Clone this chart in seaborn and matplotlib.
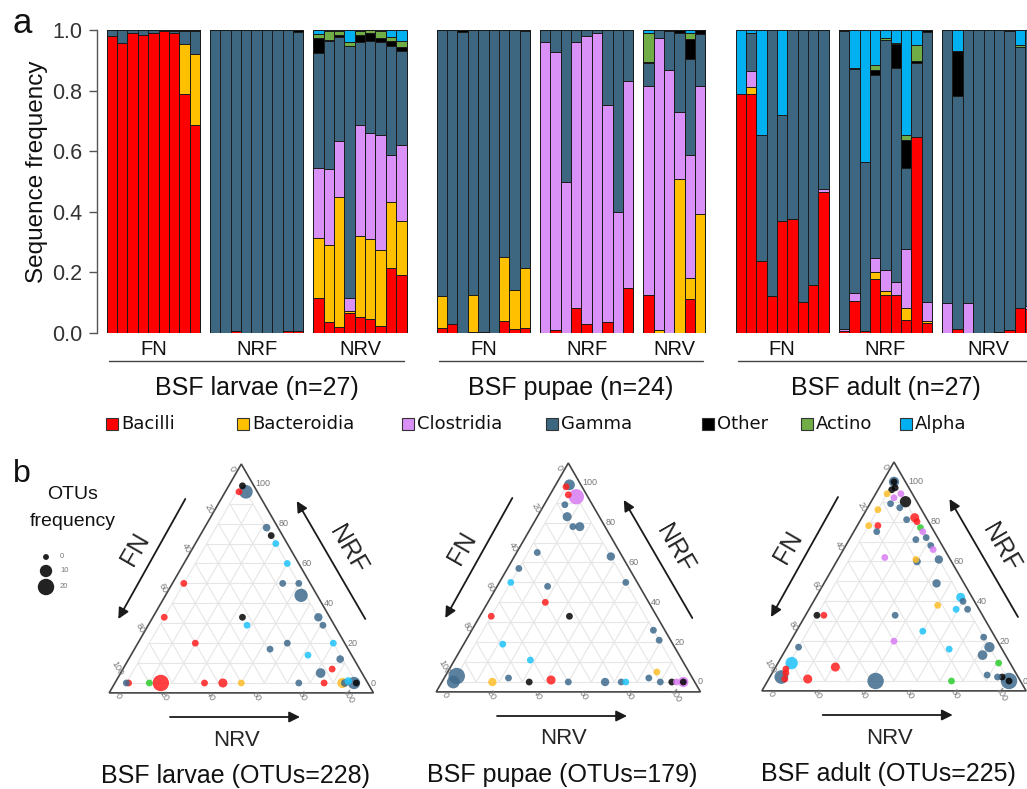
import numpy as np
import pandas as pd
import matplotlib.pyplot as plt
import seaborn as sns
from matplotlib.patches import Polygon, Rectangle

# ---------------- data ----------------
classes = ['Bacilli', 'Bacteroidia', 'Clostridia', 'Gamma', 'Other', 'Actino', 'Alpha']
bar_colors = ['#ff0000', '#ffc000', '#d990f7', '#3d6681', '#000000', '#70ad47', '#00b0f0']
dot_colors = ['#ff1f1f', '#fdbd2a', '#d97cf2', '#3f6b8d', '#050505', '#2fcc2f', '#1ec3fb']

group_names = ['FN', 'NRF', 'NRV']
stage_titles = ['BSF larvae (n=27)', 'BSF pupae (n=24)', 'BSF adult (n=27)']
tern_titles = ['BSF larvae (OTUs=228)', 'BSF pupae (OTUs=179)', 'BSF adult (OTUs=225)']

# each row: Bacilli, Bacteroidia, Clostridia, Gamma, Other, Actino, Alpha
larvae_FN = [
    [0.981, 0, 0, 0.019, 0, 0, 0],
    [0.957, 0, 0, 0.043, 0, 0, 0],
    [0.990, 0, 0, 0.010, 0, 0, 0],
    [0.982, 0, 0, 0.018, 0, 0, 0],
    [0.990, 0, 0, 0.010, 0, 0, 0],
    [0.996, 0, 0, 0.004, 0, 0, 0],
    [0.990, 0, 0, 0.006, 0.004, 0, 0],
    [0.789, 0.164, 0, 0.044, 0.003, 0, 0],
    [0.686, 0.234, 0, 0.077, 0.003, 0, 0],
]
larvae_NRF = [
    [0, 0, 0, 1.0, 0, 0, 0],
    [0, 0, 0, 1.0, 0, 0, 0],
    [0.005, 0, 0, 0.995, 0, 0, 0],
    [0, 0, 0, 1.0, 0, 0, 0],
    [0, 0, 0, 1.0, 0, 0, 0],
    [0, 0, 0, 1.0, 0, 0, 0],
    [0, 0, 0, 1.0, 0, 0, 0],
    [0.006, 0, 0, 0.994, 0, 0, 0],
    [0.006, 0, 0, 0.988, 0.006, 0, 0],
]
larvae_NRV = [
    [0.115, 0.199, 0.231, 0.379, 0.050, 0.013, 0.013],
    [0.036, 0.255, 0.249, 0.424, 0.003, 0.029, 0.004],
    [0.020, 0.428, 0.185, 0.345, 0.005, 0.013, 0.004],
    [0.066, 0.007, 0.042, 0.833, 0.000, 0.012, 0.040],
    [0.053, 0.266, 0.366, 0.274, 0.026, 0.013, 0.002],
    [0.047, 0.263, 0.350, 0.305, 0.024, 0.011, 0.000],
    [0.022, 0.253, 0.379, 0.308, 0.012, 0.022, 0.004],
    [0.214, 0.219, 0.156, 0.359, 0.017, 0.011, 0.024],
    [0.193, 0.176, 0.252, 0.309, 0.015, 0.020, 0.035],
]
pupae_FN = [
    [0.018, 0.104, 0, 0.878, 0, 0, 0],
    [0.029, 0, 0, 0.971, 0, 0, 0],
    [0, 0, 0, 0.995, 0.005, 0, 0],
    [0.003, 0.122, 0, 0.875, 0, 0, 0],
    [0.004, 0, 0, 0.996, 0, 0, 0],
    [0, 0, 0, 1.0, 0, 0, 0],
    [0.040, 0.210, 0, 0.750, 0, 0, 0],
    [0.012, 0.131, 0, 0.857, 0, 0, 0],
    [0.018, 0.196, 0, 0.783, 0.003, 0, 0],
]
pupae_NRF = [
    [0, 0, 0.960, 0.040, 0, 0, 0],
    [0.009, 0, 0.917, 0.074, 0, 0, 0],
    [0, 0, 0.498, 0.502, 0, 0, 0],
    [0.084, 0, 0.878, 0.038, 0, 0, 0],
    [0.031, 0, 0.948, 0.021, 0, 0, 0],
    [0, 0, 0.990, 0.010, 0, 0, 0],
    [0.036, 0, 0.717, 0.247, 0, 0, 0],
    [0, 0, 0.400, 0.600, 0, 0, 0],
    [0.149, 0, 0.684, 0.167, 0, 0, 0],
]
pupae_NRV = [
    [0.127, 0, 0.687, 0.076, 0.006, 0.094, 0.010],
    [0, 0.011, 0.962, 0.027, 0, 0, 0],
    [0, 0, 0.868, 0.129, 0.003, 0, 0],
    [0, 0.507, 0.224, 0.259, 0.010, 0, 0],
    [0.111, 0.071, 0.405, 0.317, 0.066, 0.019, 0.011],
    [0, 0.393, 0.421, 0.173, 0.013, 0, 0],
]
adult_FN = [
    [0.789, 0, 0, 0, 0, 0, 0.211],
    [0.788, 0.024, 0.052, 0.126, 0, 0, 0.010],
    [0.238, 0, 0, 0.415, 0, 0, 0.347],
    [0.122, 0, 0, 0.878, 0, 0, 0],
    [0.371, 0, 0, 0.349, 0, 0, 0.280],
    [0.376, 0, 0, 0.624, 0, 0, 0],
    [0.101, 0, 0, 0.899, 0, 0, 0],
    [0.157, 0, 0, 0.843, 0, 0, 0],
    [0.466, 0, 0.009, 0.525, 0, 0, 0],
]
adult_NRF = [
    [0.005, 0, 0.009, 0.982, 0.004, 0, 0],
    [0.105, 0, 0.027, 0.739, 0.002, 0, 0.127],
    [0.005, 0, 0, 0.559, 0, 0, 0.436],
    [0.179, 0.022, 0.046, 0.606, 0.015, 0.016, 0.116],
    [0.126, 0.011, 0.072, 0.758, 0, 0.007, 0.026],
    [0.126, 0, 0.042, 0.706, 0.080, 0.002, 0.044],
    [0.044, 0.037, 0.196, 0.268, 0.092, 0.018, 0.345],
    [0.646, 0, 0, 0.244, 0.009, 0.053, 0.048],
    [0.034, 0.005, 0.063, 0.890, 0.008, 0, 0],
]
adult_NRV = [
    [0, 0, 0.099, 0.901, 0, 0, 0],
    [0.013, 0, 0, 0.768, 0.149, 0, 0.070],
    [0, 0, 0.099, 0.901, 0, 0, 0],
    [0, 0, 0, 1.0, 0, 0, 0],
    [0, 0, 0, 1.0, 0, 0, 0],
    [0.004, 0, 0, 0.996, 0, 0, 0],
    [0.011, 0, 0, 0.985, 0.004, 0, 0],
    [0.081, 0, 0, 0.862, 0, 0.009, 0.048],
    [0.080, 0, 0.010, 0.910, 0, 0, 0],
]

# ternary OTUs: NRF %, NRV %, class, OTU frequency (FN = rest)
larvae_nrf = [99, 96, 96, 78, 74, 70, 60, 50, 50, 44, 50, 33, 33, 29, 33, 29, 20, 17, 20, 14,
              20, 12, 7, 5, 0, 0, 0, 0, 0, 0, 0, 0, 0, 0, 0, 1, 0, 0]
larvae_nrv = [1, 4, 1, 22, 26, 30, 40, 43, 50, 54, 0, 0, 34, 38, 67, 71, 20, 54, 60, 72,
              80, 87, 86, 82, 86, 75, 50, 42, 34, 15, 10, 1, 0, 94, 95, 96, 99, 100]
larvae_cls = ['Other', 'Gamma', 'Bacilli', 'Gamma', 'Other', 'Alpha', 'Alpha', 'Gamma', 'Gamma', 'Gamma',
              'Bacilli', 'Bacilli', 'Other', 'Alpha', 'Gamma', 'Gamma', 'Bacilli', 'Gamma', 'Gamma', 'Alpha',
              'Alpha', 'Gamma', 'Bacilli', 'Gamma', 'Bacilli', 'Gamma', 'Bacteroidia', 'Bacilli', 'Bacilli', 'Bacilli',
              'Actino', 'Bacilli', 'Gamma', 'Bacteroidia', 'Gamma', 'Alpha', 'Gamma', 'Other']
larvae_otu = [1, 13, 1, 2, 1, 1, 1, 1, 1, 12, 1, 1, 1, 1, 3, 1, 1, 1, 1, 1,
              1, 2, 1, 5, 1, 1, 1, 4, 1, 20, 1, 1, 1, 6, 2, 2, 10, 1]

pupae_nrf = [99, 98, 94, 93, 89, 83, 78, 78, 65, 57, 50, 48, 40, 33, 33, 19, 11, 63, 50, 26,
             21, 5, 2, 3, 0, 0, 2, 0, 1, 0, 0, 0, 0, 0, 0, 0, 0, 0]
pupae_nrv = [1, 0, 3, 7, 4, 8, 13, 16, 4, 0, 0, 17, 20, 34, 0, 12, 28, 37, 50, 74,
             79, 86, 84, 0, 0, 17, 23, 33, 42, 50, 66, 73, 75, 90, 95, 97, 100, 100]
pupae_cls = ['Gamma', 'Bacilli', 'Bacilli', 'Clostridia', 'Gamma', 'Gamma', 'Gamma', 'Gamma', 'Gamma', 'Gamma',
             'Alpha', 'Gamma', 'Bacilli', 'Other', 'Bacilli', 'Alpha', 'Alpha', 'Gamma', 'Gamma', 'Gamma',
             'Gamma', 'Bacteroidia', 'Gamma', 'Gamma', 'Gamma', 'Bacteroidia', 'Gamma', 'Other', 'Bacilli', 'Gamma',
             'Gamma', 'Gamma', 'Alpha', 'Gamma', 'Other', 'Clostridia', 'Clostridia', 'Other']
pupae_otu = [7, 1, 1, 17, 1, 4, 1, 4, 1, 1, 1, 1, 1, 1, 1, 1, 1, 3, 1, 1,
             1, 1, 1, 20, 11, 3, 1, 1, 4, 1, 3, 1, 1, 1, 1, 1, 6, 1]

adult_nrf = [100, 100, 97, 96, 94, 92, 94, 90, 87, 89, 86, 81, 82, 80, 77, 75, 72, 68, 66, 71,
             78, 78, 75, 62, 61, 60, 61, 49, 42, 40, 36, 36, 38, 33, 25, 20, 33, 33, 17, 9,
             6, 2, 4, 1, 7, 1, 0, 0, 22, 17, 13, 16, 9, 3, 0, 2, 0, 2]
adult_nrv = [0, 0, 2, 1, 0, 4, 6, 10, 9, 4, 0, 15, 18, 20, 23, 25, 28, 32, 34, 24,
             0, 4, 5, 15, 29, 30, 39, 44, 58, 60, 64, 59, 50, 34, 50, 40, 0, 3, 0, 1,
             0, 0, 1, 2, 21, 12, 42, 75, 78, 83, 82, 66, 91, 89, 100, 96, 100, 94]
adult_cls = ['Gamma', 'Other', 'Other', 'Other', 'Bacteroidia', 'Clostridia', 'Clostridia', 'Other', 'Gamma', 'Gamma',
             'Bacteroidia', 'Gamma', 'Bacilli', 'Bacilli', 'Actino', 'Clostridia', 'Gamma', 'Gamma', 'Clostridia', 'Gamma',
             'Bacteroidia', 'Bacilli', 'Gamma', 'Clostridia', 'Bacteroidia', 'Gamma', 'Gamma', 'Gamma', 'Alpha', 'Gamma',
             'Gamma', 'Alpha', 'Bacteroidia', 'Gamma', 'Alpha', 'Clostridia', 'Other', 'Bacilli', 'Gamma', 'Alpha',
             'Bacilli', 'Gamma', 'Bacilli', 'Bacilli', 'Bacilli', 'Bacilli', 'Gamma', 'Actino', 'Gamma', 'Gamma',
             'Gamma', 'Alpha', 'Actino', 'Gamma', 'Gamma', 'Other', 'Other', 'Gamma']
adult_otu = [6, 1, 1, 1, 1, 1, 1, 8, 1, 1, 1, 1, 4, 1, 1, 1, 1, 1, 1, 1,
             1, 1, 1, 1, 1, 2, 3, 3, 4, 1, 1, 1, 1, 1, 1, 1, 1, 1, 1, 10,
             1, 13, 1, 1, 4, 4, 20, 1, 1, 6, 5, 1, 1, 1, 20, 1, 1, 1]

otu_legend = [0, 10, 20]

# ---------------- style ----------------
sns.set_theme(style='white')
plt.rcParams['font.family'] = ['Liberation Sans', 'DejaVu Sans']

fig = plt.figure(figsize=(10.27, 7.89), dpi=100)
W, Hpx = 1027, 789

# overlay axes in pixel coordinates
ov = fig.add_axes([0, 0, 1, 1])
ov.set_xlim(0, W)
ov.set_ylim(Hpx, 0)
ov.axis('off')

# ---------------- panel a: stacked bars ----------------
ax = fig.add_axes([96.7 / W, (Hpx - 333) / Hpx, (W - 96.7) / W, 303 / Hpx])

bar_sets = [[larvae_FN, larvae_NRF, larvae_NRV],
            [pupae_FN, pupae_NRF, pupae_NRV],
            [adult_FN, adult_NRF, adult_NRV]]
gap_group, gap_stage = 0.96, 2.9
pos, rows, group_spans, stage_spans = [], [], [], []
x = 0.0
for sets in bar_sets:
    s0 = x
    for g, grp in enumerate(sets):
        g0 = x
        for r in grp:
            pos.append(round(x + 0.5, 4))
            rows.append(r)
            x += 1
        group_spans.append((g0, x, group_names[g]))
        x += gap_group
    x -= gap_group
    stage_spans.append((s0, x))
    x += gap_stage

bars = pd.DataFrame(rows, columns=classes)
bars['pos'] = pos
cum = bars[classes].cumsum(axis=1)

# stacked bars: draw cumulative heights from the top class down
for k in range(len(classes) - 1, -1, -1):
    sns.barplot(x=bars['pos'], y=cum[classes[k]], color=bar_colors[k], native_scale=True,
                width=1, saturation=1, edgecolor='#1a1a1a', linewidth=0.7,
                errorbar=None, ax=ax)

ax.set_xlim(-0.964, (W - 106.7) / 10.37)
ax.set_ylim(0, 1)
ax.set_xticks([])
ax.set_xlabel('')
ax.set_ylabel('')
ax.set_yticks(np.arange(0, 1.01, 0.2))
ax.set_yticklabels([f'{v:.1f}' for v in np.arange(0, 1.01, 0.2)])
ax.tick_params(axis='y', left=True, length=6, width=1, color='#555', pad=4.5,
               labelsize=15.5, labelcolor='#333')
for side in ['top', 'right', 'bottom']:
    ax.spines[side].set_visible(False)
ax.spines['left'].set_color('#555')
ax.spines['left'].set_linewidth(1)

tr = ax.get_xaxis_transform()
for g0, g1, name in group_spans:
    ax.text((g0 + g1) / 2, -0.053, name, transform=tr, ha='center', va='center',
            fontsize=14.5, color='#111', clip_on=False)
for (s0, s1), title in zip(stage_spans, stage_titles):
    ax.plot([s0 + 0.25, s1 - 0.25], [-0.092, -0.092], transform=tr, color='#444',
            lw=1, clip_on=False)
    ax.text((s0 + s1) / 2, -0.182, title, transform=tr, ha='center', va='center',
            fontsize=18, color='#111', clip_on=False)

ov.text(13, 33, 'a', fontsize=25, ha='left', va='baseline', color='#111')
ov.text(37, 172, 'Sequence frequency', rotation=90, fontsize=17.5, ha='center',
        va='center', color='#111')

# legend row
legend_x = [106, 237, 402, 546, 702, 801, 900]
for name, col, lx in zip(classes, bar_colors, legend_x):
    ov.add_patch(Rectangle((lx, 417.5), 12, 12, facecolor=col, edgecolor='#333', lw=0.8))
    ov.text(lx + 15, 424, name, fontsize=13, ha='left', va='center',
            family='DejaVu Sans', color='#111')

# ---------------- panel b: ternary plots ----------------
S = 2.3                 # pixels per ternary unit
HT = np.sqrt(3) / 2
tern_origins = [(126.3, 683), (453.3, 682), (779, 681)]
pad = 4.3
dot_sizes = (18, 140)


def tpx(o, nrf, nrv):
    nrf = np.asarray(nrf, float)
    nrv = np.asarray(nrv, float)
    return o[0] + S * (nrv + nrf / 2), o[1] - S * HT * nrf


tern_sets = [(larvae_nrf, larvae_nrv, larvae_cls, larvae_otu),
             (pupae_nrf, pupae_nrv, pupae_cls, pupae_otu),
             (adult_nrf, adult_nrv, adult_cls, adult_otu)]

frames = []
for o, (nrf, nrv, cls, otu), title in zip(tern_origins, tern_sets, tern_titles):
    ox, oy = o
    # grid
    for k in range(0, 100, 10):
        for a, b in [(tpx(o, [k, k], [0, 100 - k])),
                     (tpx(o, [0, 100 - k], [k, k])),
                     (tpx(o, [100 - k, 0], [0, 100 - k]))]:
            ov.plot(a, b, color='#e6e6e6', lw=0.8, zorder=1)
    # outline
    verts = [(ox + S * (-pad * np.sqrt(3)), oy + S * pad),
             (ox + S * (100 + pad * np.sqrt(3)), oy + S * pad),
             (ox + S * 50, oy - S * (100 * HT + 2 * pad))]
    ov.add_patch(Polygon(verts, closed=True, fill=False, edgecolor='#444', lw=1.2, zorder=2))
    # tick labels
    for k in range(0, 101, 20):
        rx, ry = tpx(o, k, 100 - k)
        ov.text(rx + 14, ry, str(k), fontsize=6.5, color='#777', ha='left', va='center')
        lx, ly = tpx(o, 100 - k, 0)
        ov.text(lx - 9, ly - 15, str(k), fontsize=6.5, color='#777', ha='center',
                va='center', rotation=-60)
        bx, by = tpx(o, 0, k)
        ov.text(bx - 8, by + 13, str(k), fontsize=6.5, color='#777', ha='center',
                va='center', rotation=-60)
    # arrows and axis names
    arr = dict(arrowstyle='-|>', lw=1.3, color='k', mutation_scale=16, shrinkA=0, shrinkB=0)
    ov.annotate('', xy=(ox - 8, oy - 64), xytext=(ox + 59, oy - 184), arrowprops=arr)
    ov.annotate('', xy=(ox + 170.5, oy - 182), xytext=(ox + 239, oy - 64), arrowprops=arr)
    ov.annotate('', xy=(ox + 173.7, oy + 34), xytext=(ox + 43.7, oy + 34), arrowprops=arr)
    ov.text(ox + 9, oy - 134, 'FN', fontsize=18, rotation=60, ha='center', va='center')
    ov.text(ox + 222, oy - 133, 'NRF', fontsize=18, rotation=-60, ha='center', va='center')
    ov.text(ox + 110, oy + 57, 'NRV', fontsize=16, ha='center', va='center')
    ov.text(ox + 109, oy + 93, title, fontsize=18, ha='center', va='center', color='#111')

    px, py = tpx(o, nrf, nrv)
    frames.append(pd.DataFrame({'px': px, 'py': py, 'cls': cls, 'otu': otu}))

pts = pd.concat(frames, ignore_index=True).sort_values('otu', ascending=False, kind='stable')
palette = dict(zip(classes, dot_colors))
sns.scatterplot(data=pts, x='px', y='py', hue='cls', palette=palette, size='otu',
                sizes=dot_sizes, size_norm=(0, 20), alpha=0.85, linewidth=0,
                legend=False, ax=ov, zorder=3)

# OTU frequency legend
ov.text(13, 482, 'b', fontsize=23, ha='left', va='baseline', color='#111')
ov.text(73, 494, 'OTUs', fontsize=14, ha='center', va='center', color='#111')
ov.text(73, 521, 'frequency', fontsize=14, ha='center', va='center', color='#111')
leg = pd.DataFrame({'px': [46, 46, 46], 'py': [557, 571, 587], 'otu': otu_legend})
sns.scatterplot(data=leg, x='px', y='py', size='otu', sizes=dot_sizes, size_norm=(0, 20),
                color='#222', linewidth=0, legend=False, ax=ov)
for v, yy in zip(otu_legend, leg['py']):
    ov.text(60, yy, str(v), fontsize=5.5, color='#777', ha='left', va='center')

ov.set_xlim(0, W)
ov.set_ylim(Hpx, 0)
ov.axis('off')

fig.savefig('out.png', dpi=100)
